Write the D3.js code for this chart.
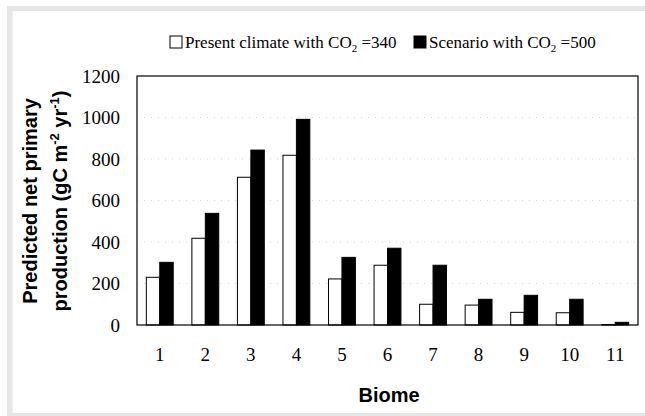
<!DOCTYPE html>
<html><head><meta charset="utf-8">
<script src="https://cdn.jsdelivr.net/npm/d3@7/dist/d3.min.js"></script>
<style>body{margin:0;background:#fff}svg{display:block}
.tk text{font-family:'Liberation Serif','Times New Roman',serif;font-size:19px;fill:#000}</style>
</head><body>
<svg id="c" width="645" height="416"></svg>
<script>
const biomes = ["1","2","3","4","5","6","7","8","9","10","11"];
const present = [230, 418, 712, 818, 222, 288, 100, 96, 61, 59, 2];
const scenario = [302, 538, 843, 991, 326, 370, 288, 124, 143, 124, 13];
const yTicks = [0, 200, 400, 600, 800, 1000, 1200];
const seriesNames = ["Present climate with CO", "Scenario with CO"];
const seriesCO2 = ["=340", "=500"];

const svg = d3.select("#c");
const m = {l:137, r:638, t:76, b:325};
// frame
svg.append("rect").attr("x",7).attr("y",6).attr("width",638).attr("height",5).attr("fill","#e6e6e6");
svg.append("rect").attr("x",7).attr("y",6).attr("width",5.5).attr("height",410).attr("fill","#e6e6e6");
svg.append("rect").attr("x",7).attr("y",413).attr("width",638).attr("height",3).attr("fill","#e6e6e6");

const x = d3.scaleBand().domain(biomes).range([m.l, m.r]).paddingInner(0.41).paddingOuter(0.205);
const xs = d3.scaleBand().domain([0,1]).range([0, x.bandwidth()]);
const y = d3.scaleLinear().domain([0,1200]).range([m.b, m.t]);

// faint gridlines
svg.append("g").selectAll("line").data(yTicks.filter(d=>d>0 && d<1200)).join("line")
  .attr("x1",m.l).attr("x2",m.r).attr("y1",d=>y(d)).attr("y2",d=>y(d))
  .attr("stroke","#bbb").attr("stroke-width",0.6).attr("stroke-dasharray","1,6");

// bars
const g = svg.append("g");
g.selectAll("rect.p").data(present).join("rect").attr("class","p")
  .attr("x",(d,i)=>x(biomes[i])+xs(0)).attr("width",xs.bandwidth())
  .attr("y",d=>y(d)).attr("height",d=>y(0)-y(d))
  .attr("fill","#fff").attr("stroke","#000").attr("stroke-width",1);
g.selectAll("rect.s").data(scenario).join("rect").attr("class","s")
  .attr("x",(d,i)=>x(biomes[i])+xs(1)).attr("width",xs.bandwidth())
  .attr("y",d=>y(d)).attr("height",d=>y(0)-y(d))
  .attr("fill","#000").attr("stroke","#000").attr("stroke-width",1);

// plot border
svg.append("rect").attr("x",m.l).attr("y",m.t).attr("width",m.r-m.l).attr("height",m.b-m.t)
  .attr("fill","none").attr("stroke","#000").attr("stroke-width",1.2);

// y axis
const ya = svg.append("g").attr("class","tk").attr("transform",`translate(${m.l},0)`)
  .call(d3.axisLeft(y).tickValues(yTicks).tickSize(0).tickPadding(17).tickFormat(d3.format("d")));
ya.select(".domain").remove();
ya.attr("font-family",null).attr("font-size",null);

// x axis
const xa = svg.append("g").attr("class","tk").attr("transform",`translate(0,${m.b})`)
  .call(d3.axisBottom(x).tickSize(0).tickPadding(23));
xa.select(".domain").remove();
xa.attr("font-family",null).attr("font-size",null);

// axis titles
svg.append("text").attr("x",389).attr("y",402).attr("text-anchor","middle")
  .style("font-family","'Liberation Sans',Arial,sans-serif").attr("font-weight","bold").attr("font-size",20).text("Biome");
const yt = svg.append("text").attr("transform","translate(0,201) rotate(-90)")
  .attr("text-anchor","middle").style("font-family","'Liberation Sans',Arial,sans-serif")
  .attr("font-weight","bold").attr("font-size",20);
yt.append("tspan").attr("x",0).attr("y",37).text("Predicted net primary");
const l2 = yt.append("tspan").attr("x",0).attr("y",67);
l2.append("tspan").text("production (gC m");
l2.append("tspan").attr("dy",-8).attr("font-size",13).text("-2");
l2.append("tspan").attr("dy",8).text(" yr");
l2.append("tspan").attr("dy",-8).attr("font-size",13).text("-1");
l2.append("tspan").attr("dy",8).text(")");

// legend
const lg = svg.append("g").style("font-family","'Liberation Serif',serif").attr("font-size",17);
const lx = [170, 414];
seriesNames.forEach((n,i)=>{
  lg.append("rect").attr("x",lx[i]).attr("y",36).attr("width",12).attr("height",12)
    .attr("fill", i? "#000":"#fff").attr("stroke","#000").attr("stroke-width",1);
  const t = lg.append("text").attr("x",lx[i]+15).attr("y",48);
  t.append("tspan").text(n);
  t.append("tspan").attr("dy",4).attr("font-size",11).text("2");
  t.append("tspan").attr("dy",-4).text(" " + seriesCO2[i]);
});
</script>
</body></html>
